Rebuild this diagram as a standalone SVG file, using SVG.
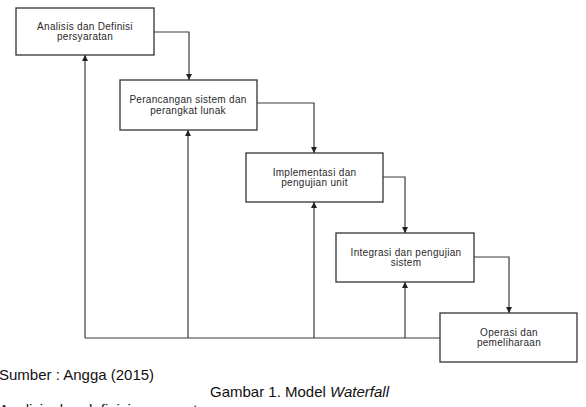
<svg xmlns="http://www.w3.org/2000/svg" width="586" height="407" viewBox="0 0 586 407">
<defs>
<marker id="arr" viewBox="0 0 10 10" refX="10" refY="5" markerWidth="6" markerHeight="6" markerUnits="userSpaceOnUse" orient="auto">
<path d="M0,0 L10,5 L0,10 z" fill="#222"/>
</marker>
</defs>
<style>
.box{fill:#fff;stroke:#333;stroke-width:1.3}
.lbl{font-family:"Liberation Sans",Arial,sans-serif;font-size:10px;fill:#2a2a2a;text-anchor:middle;letter-spacing:0.3px}
.con{fill:none;stroke:#3a3a3a;stroke-width:1.2}
.cap{font-family:"Liberation Sans",Arial,sans-serif;font-size:15px;fill:#111}
</style>
<rect width="586" height="407" fill="#fff"/>
<g id="connectors">
<path class="con" d="M154,32 H189 V80" marker-end="url(#arr)"/>
<path class="con" d="M257,103 H314 V153" marker-end="url(#arr)"/>
<path class="con" d="M383,177 H405 V233" marker-end="url(#arr)"/>
<path class="con" d="M474,257 H509 V313" marker-end="url(#arr)"/>
<path class="con" d="M440,338 H85"/>
<path class="con" d="M85,338 V55" marker-end="url(#arr)"/>
<path class="con" d="M188,338 V130" marker-end="url(#arr)"/>
<path class="con" d="M314,338 V202" marker-end="url(#arr)"/>
<path class="con" d="M405,338 V282" marker-end="url(#arr)"/>
</g>
<g id="n1">
<rect class="box" x="16" y="8" width="138" height="47"/>
<text class="lbl" x="85" y="29.5">Analisis dan Definisi</text>
<text class="lbl" x="85" y="40">persyaratan</text>
</g>
<g id="n2">
<rect class="box" x="120" y="80" width="137" height="50"/>
<text class="lbl" x="188" y="102.5">Perancangan sistem dan</text>
<text class="lbl" x="188" y="113.5">perangkat lunak</text>
</g>
<g id="n3">
<rect class="box" x="246" y="153" width="137" height="49"/>
<text class="lbl" x="314.5" y="175.5">Implementasi dan</text>
<text class="lbl" x="314.5" y="186">pengujian unit</text>
</g>
<g id="n4">
<rect class="box" x="336" y="233" width="138" height="49"/>
<text class="lbl" x="406" y="255.5">Integrasi dan pengujian</text>
<text class="lbl" x="406" y="266">sistem</text>
</g>
<g id="n5">
<rect class="box" x="440" y="313" width="137" height="49"/>
<text class="lbl" x="509" y="335.5">Operasi dan</text>
<text class="lbl" x="509" y="346">pemeliharaan</text>
</g>
<text class="cap" x="-1" y="380">Sumber : Angga (2015)</text>
<text class="cap" x="210" y="397">Gambar 1. Model <tspan font-style="italic">Waterfall</tspan></text>
<text class="cap" x="-1" y="415">Analisis dan definisi persyaratan</text>
</svg>
